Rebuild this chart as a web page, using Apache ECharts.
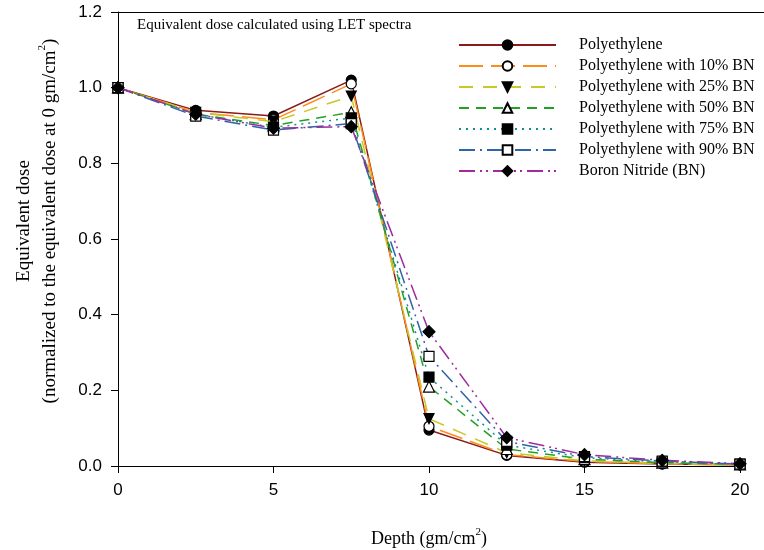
<!DOCTYPE html>
<html>
<head>
<meta charset="utf-8">
<script src="https://cdn.jsdelivr.net/npm/echarts@6/dist/echarts.min.js"></script>
<style>html,body{margin:0;padding:0;background:#fff;}#c{width:764px;height:550px;}</style>
</head>
<body>
<div id="c"></div>
<script>
const depth = [0, 2.5, 5, 7.5, 10, 12.5, 15, 17.5, 20];
const seriesNames = ['Polyethylene','Polyethylene with 10% BN','Polyethylene with 25% BN','Polyethylene with 50% BN','Polyethylene with 75% BN','Polyethylene with 90% BN','Boron Nitride (BN)'];
const pe     = [1.0, 0.940, 0.925, 1.020, 0.095, 0.028, 0.010, 0.005, 0.003];
const bn10   = [1.0, 0.935, 0.915, 1.010, 0.105, 0.030, 0.012, 0.006, 0.003];
const bn25   = [1.0, 0.935, 0.910, 0.978, 0.125, 0.035, 0.014, 0.007, 0.003];
const bn50   = [1.0, 0.930, 0.900, 0.935, 0.210, 0.045, 0.018, 0.009, 0.004];
const bn75   = [1.0, 0.930, 0.895, 0.920, 0.235, 0.055, 0.022, 0.011, 0.005];
const bn90   = [1.0, 0.925, 0.888, 0.905, 0.290, 0.065, 0.025, 0.013, 0.005];
const bn100  = [1.0, 0.930, 0.893, 0.897, 0.355, 0.075, 0.030, 0.015, 0.006];
const yTicks = [0, 0.2, 0.4, 0.6, 0.8, 1.0, 1.2];
const xTicks = [0, 5, 10, 15, 20];

const values = [pe, bn10, bn25, bn50, bn75, bn90, bn100];
const colors = ['#8B1A1A', '#FF8C1A', '#C8C828', '#22A022', '#109090', '#2E64A8', '#A02AA0'];
const dashes = ['solid', [24, 8], [14, 10], [10, 7], [2, 5], [16, 5, 2, 5], [16, 5, 2, 4, 2, 5]];
const symbols = ['circle', 'circle', 'triangle', 'triangle', 'rect', 'rect', 'diamond'];
const rotates = [0, 0, 180, 0, 0, 0, 0];
const fills = ['#000', '#fff', '#000', '#fff', '#000', '#fff', '#000'];
const sizes = [10, 10, 10, 11, 10, 10, 12];

const series = values.map((v, i) => ({
  name: seriesNames[i],
  type: 'line',
  data: depth.map((d, j) => [d, v[j]]),
  symbol: symbols[i],
  symbolRotate: rotates[i],
  symbolSize: sizes[i],
  showAllSymbol: true,
  lineStyle: { color: colors[i], width: 1.5, type: dashes[i] },
  itemStyle: { color: fills[i], borderColor: '#000', borderWidth: 1.2 },
  emphasis: { disabled: true },
  animation: false,
  z: 2 + i
}));

const serif = 'Liberation Serif';
const richY = {
  n: { fontFamily: serif, fontSize: 19, color: '#000', lineHeight: 26 },
  s: { fontFamily: serif, fontSize: 11, color: '#000', lineHeight: 14, verticalAlign: 'top' }
};
const richX = {
  n: { fontFamily: serif, fontSize: 18, color: '#000', lineHeight: 24 },
  s: { fontFamily: serif, fontSize: 11, color: '#000', lineHeight: 13, verticalAlign: 'top' }
};

const chart = echarts.init(document.getElementById('c'));
chart.setOption({
  backgroundColor: '#fff',
  animation: false,
  title: {
    text: 'Equivalent dose calculated using LET spectra',
    left: 132, top: 13,
    textStyle: { fontFamily: serif, fontSize: 15, fontWeight: 'normal', color: '#000' }
  },
  legend: {
    left: 453, top: 32,
    orient: 'vertical',
    itemWidth: 97, itemHeight: 12, itemGap: 5,
    textStyle: { fontFamily: serif, fontSize: 16, color: '#000', padding: [0, 0, 0, 18] },
    data: seriesNames
  },
  grid: { left: 118, right: 24, top: 12, bottom: 84, outerBoundsMode: 'none', containLabel: false },
  graphic: [{
    type: 'line', silent: true, z: 1,
    shape: { x1: 118, y1: 12.5, x2: 764, y2: 12.5 },
    style: { stroke: '#000', lineWidth: 1 }
  }],
  xAxis: {
    type: 'value', min: 0, max: 20, interval: 5,
    name: '{n|Depth (gm/cm}{s|2}{n|)}', nameLocation: 'middle', nameGap: 61,
    nameTextStyle: { rich: richX },
    axisLine: { show: true, onZero: false, lineStyle: { color: '#000', width: 1 } },
    axisTick: { show: true, length: 7, lineStyle: { color: '#000' } },
    axisLabel: { fontFamily: 'Liberation Sans', fontSize: 17, color: '#000', margin: 16,
      formatter: v => xTicks.includes(v) ? String(v) : '' },
    splitLine: { show: false }
  },
  yAxis: {
    type: 'value', min: 0, max: 1.2, interval: 0.2,
    name: '{n|Equivalent dose}\n{n|(normalized to the equivalent dose at 0 gm/cm}{s|2}{n|)}',
    nameLocation: 'middle', nameGap: 55, nameRotate: 90,
    nameTextStyle: { rich: richY, padding: [0, 0, 0, 36] },
    axisLine: { show: true, onZero: false, lineStyle: { color: '#000', width: 1 } },
    axisTick: { show: true, length: 7, lineStyle: { color: '#000' } },
    axisLabel: { fontFamily: 'Liberation Sans', fontSize: 17, color: '#000', margin: 16,
      formatter: v => { const t = yTicks.find(x => Math.abs(x - v) < 1e-9); return t === undefined ? '' : t.toFixed(1); } },
    splitLine: { show: false }
  },
  series: series
});
</script>
</body>
</html>
